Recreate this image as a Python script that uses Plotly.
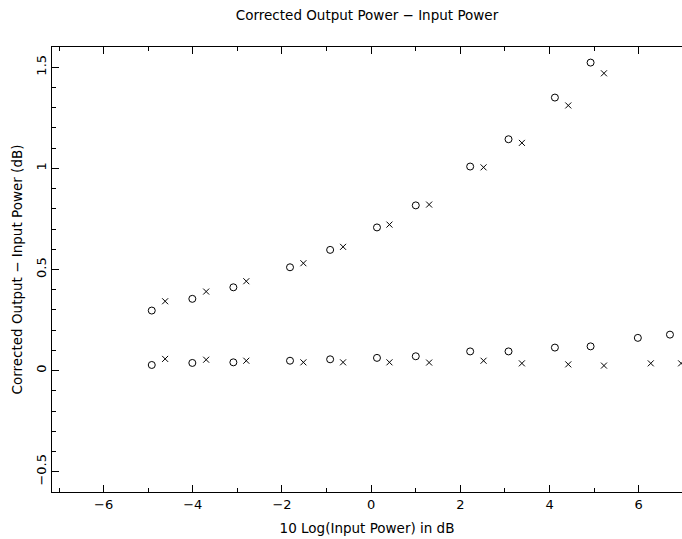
import plotly.graph_objects as go

# Upper series (open circles and crosses)
up_circ_x = [-4.92, -4.01, -3.09, -1.82, -0.92, 0.13, 1.00, 2.22, 3.08, 4.12, 4.92]
up_circ_y = [0.297, 0.355, 0.412, 0.511, 0.597, 0.708, 0.817, 1.009, 1.144, 1.350, 1.523]
up_cross_x = [-4.62, -3.70, -2.80, -1.52, -0.63, 0.41, 1.30, 2.52, 3.38, 4.42, 5.22]
up_cross_y = [0.343, 0.391, 0.442, 0.531, 0.612, 0.722, 0.821, 1.005, 1.126, 1.311, 1.470]

# Lower series
lo_circ_x = [-4.92, -4.01, -3.09, -1.82, -0.92, 0.13, 1.00, 2.22, 3.08, 4.12, 4.92, 5.98, 6.70]
lo_circ_y = [0.028, 0.038, 0.041, 0.049, 0.056, 0.063, 0.071, 0.095, 0.095, 0.114, 0.120, 0.162, 0.178]
lo_cross_x = [-4.62, -3.70, -2.80, -1.52, -0.63, 0.41, 1.30, 2.52, 3.38, 4.42, 5.22, 6.27, 6.95]
lo_cross_y = [0.058, 0.054, 0.049, 0.041, 0.041, 0.041, 0.040, 0.049, 0.036, 0.031, 0.025, 0.036, 0.036]

x_range = [-7.157, 6.97]
y_range = [-0.6, 1.6]
x_ticks = [-6, -4, -2, 0, 2, 4, 6]
y_ticks = [-0.5, 0, 0.5, 1, 1.5]
y_ticktext = ["\u22120.5", "0", "0.5", "1", "1.5"]
x_ticktext = ["\u22126", "\u22124", "\u22122", "0", "2", "4", "6"]

FONT = "DejaVu Sans, sans-serif"

circ = dict(symbol="circle-open", size=7, color="black", line=dict(width=1, color="black"))
cross = dict(symbol="x-thin-open", size=6, color="black", line=dict(width=1, color="black"))

fig = go.Figure()
for xs, ys, m in [(up_circ_x, up_circ_y, circ), (up_cross_x, up_cross_y, cross),
                  (lo_circ_x, lo_circ_y, circ), (lo_cross_x, lo_cross_y, cross)]:
    fig.add_trace(go.Scatter(x=xs, y=ys, mode="markers", marker=m, showlegend=False,
                             hoverinfo="skip"))

fig.update_layout(
    width=682, height=539,
    margin=dict(l=52, r=0, t=47, b=47, autoexpand=False),
    paper_bgcolor="white", plot_bgcolor="white",
    font=dict(family=FONT, size=13, color="black"),
    title=dict(text="Corrected Output Power \u2212 Input Power", x=0.5, xref="paper",
               y=1 - 15 / 539, yref="container", xanchor="center", yanchor="middle",
               font=dict(family=FONT, size=13.5, color="black")),
)
fig.update_xaxes(
    range=x_range, showgrid=False, zeroline=False,
    showline=True, linecolor="black", linewidth=1, mirror="ticks",
    ticks="inside", ticklen=7, tickwidth=1, tickcolor="black",
    tickvals=x_ticks, ticktext=x_ticktext,
    minor=dict(dtick=1, tick0=0, ticks="inside", ticklen=4, tickwidth=1, tickcolor="black"),
    title=dict(text="10 Log(Input Power) in dB", font=dict(family=FONT, size=13.5), standoff=12),
    automargin=False,
)
fig.update_yaxes(
    range=y_range, showgrid=False, zeroline=False,
    showline=True, linecolor="black", linewidth=1, mirror=False,
    ticks="inside", ticklen=7, tickwidth=1, tickcolor="black",
    tickvals=y_ticks, ticktext=y_ticktext, tickangle=-90,
    minor=dict(dtick=0.1, tick0=0, ticks="inside", ticklen=4, tickwidth=1, tickcolor="black"),
    title=dict(text="Corrected Output \u2212 Input Power (dB)", font=dict(family=FONT, size=13.5), standoff=8),
    automargin=False,
)

fig.write_html("out.html")
